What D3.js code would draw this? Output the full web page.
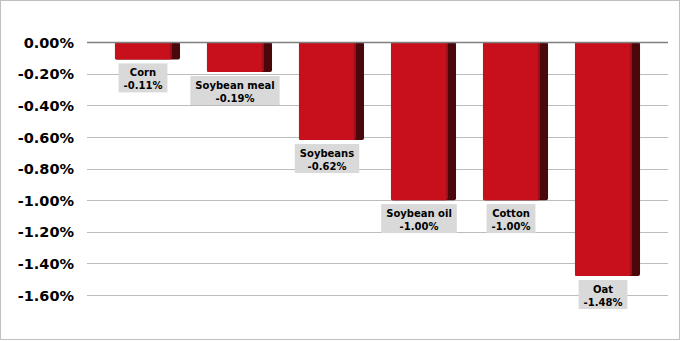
<!DOCTYPE html>
<html><head><meta charset="utf-8">
<script src="https://cdn.jsdelivr.net/npm/d3@7"></script>
<style>body{margin:0;background:#fff}svg{display:block}</style>
</head><body>
<script>
const categories = ["Corn","Soybean meal","Soybeans","Soybean oil","Cotton","Oat"];
const values = [-0.11,-0.19,-0.62,-1.00,-1.00,-1.48];
const tickValues = [0,-0.2,-0.4,-0.6,-0.8,-1.0,-1.2,-1.4,-1.6];

const W=681,H=341;
const svg=d3.select("body").append("svg").attr("width",W).attr("height",H);
svg.append("rect").attr("x",0.5).attr("y",0.5).attr("width",W-2).attr("height",H-2)
  .attr("fill","#fff").attr("stroke","#c0c0c0");

const left=87,right=668;
const y=d3.scaleLinear().domain([0,-1.6]).range([42,295]);
const x=d3.scaleBand().domain(categories).range([left,right]).paddingInner(0.293).paddingOuter(0.304);
const side=9;

// gridlines
svg.append("g").selectAll("line").data(tickValues.filter(d=>d!==0)).join("line")
  .attr("x1",left).attr("x2",right).attr("y1",d=>Math.round(y(d))+0.5).attr("y2",d=>Math.round(y(d))+0.5)
  .attr("stroke","#bcbcbc").attr("stroke-width",1);

// axis labels
const yAxis=d3.axisLeft(y).tickValues(tickValues).tickSize(0).tickPadding(0)
  .tickFormat(d=>d3.format(".2f")(d).replace("−","-")+"%");
const ag=svg.append("g").attr("transform",`translate(74,0)`).call(yAxis);
ag.select(".domain").remove();
ag.selectAll("text").attr("font-family","DejaVu Sans, sans-serif").attr("font-weight","bold")
  .attr("font-size","14.5px").attr("fill","#000").attr("dy","0.36em");

// bars
const bars=svg.append("g").selectAll("g").data(categories).join("g");
bars.append("rect")
  .attr("x",d=>x(d)).attr("y",y(0)).attr("width",x.bandwidth())
  .attr("height",(d,i)=>y(values[i])-y(0)).attr("rx",2)
  .attr("fill","#4a070c");
bars.append("rect")
  .attr("x",d=>x(d)).attr("y",y(0)).attr("width",x.bandwidth()-side)
  .attr("height",(d,i)=>y(values[i])-y(0)).attr("rx",1.5)
  .attr("fill","#c8101c");
bars.append("rect")
  .attr("x",d=>x(d)+x.bandwidth()-side-1).attr("y",y(0)).attr("width",2)
  .attr("height",(d,i)=>y(values[i])-y(0)-1)
  .attr("fill","#a20d18");

// zero line
svg.append("line").attr("x1",left).attr("x2",right).attr("y1",Math.round(y(0))+0.5).attr("y2",Math.round(y(0))+0.5)
  .attr("stroke","#7f7f7f").attr("stroke-width",1.5);

// labels
const lab=svg.append("g").selectAll("g").data(categories).join("g")
  .attr("transform",(d,i)=>`translate(${x(d)+(x.bandwidth()-side)/2},${y(values[i])+4})`);
const bg=lab.append("rect").attr("fill","#d9d9d9");
const t1=lab.append("text").attr("text-anchor","middle").attr("y",13).text(d=>d);
const t2=lab.append("text").attr("text-anchor","middle").attr("y",25.5)
  .text((d,i)=>d3.format(".2f")(values[i]).replace("−","-")+"%");
lab.selectAll("text").attr("font-family","DejaVu Sans, sans-serif").attr("font-weight","bold")
  .attr("font-size","10px").attr("fill","#000");
lab.each(function(){
  const g=d3.select(this);
  const w=Math.max(...g.selectAll("text").nodes().map(n=>n.getComputedTextLength()));
  g.select("rect").attr("x",-w/2-5).attr("y",0).attr("width",w+10).attr("height",29);
});
</script>
</body></html>
